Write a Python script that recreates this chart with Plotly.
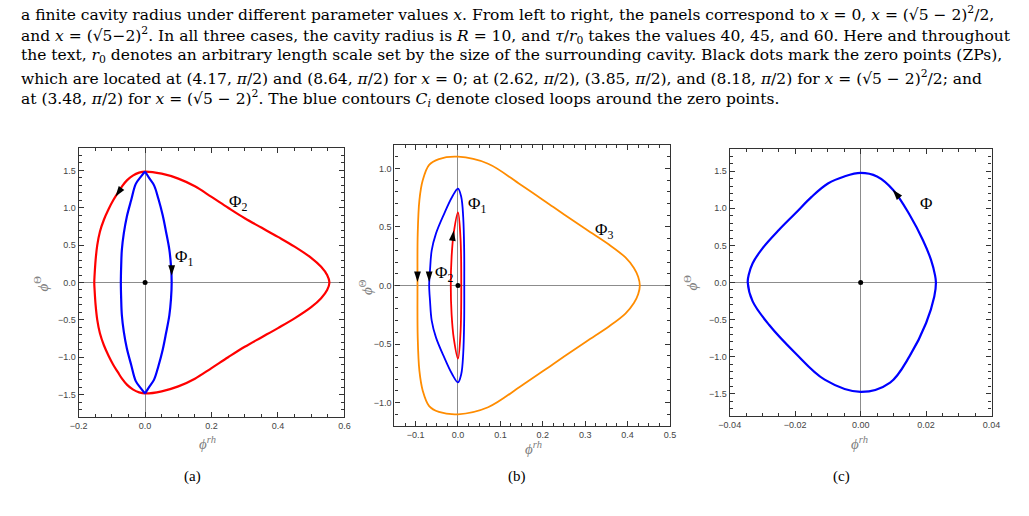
import plotly.graph_objects as go

# ---------------- data ----------------
# Panel (a): x = 0
a_red_x = [0.0, 0.05, 0.10, 0.15, 0.20, 0.25, 0.30, 0.35, 0.40, 0.45, 0.50, 0.53, 0.548, 0.555,
           0.548, 0.53, 0.50, 0.45, 0.40, 0.35, 0.30, 0.25, 0.20, 0.15, 0.10, 0.05, 0.0,
           -0.018, -0.037, -0.054, -0.069, -0.082, -0.096, -0.110, -0.124, -0.136, -0.144, -0.149, -0.152, -0.153,
           -0.152, -0.149, -0.144, -0.136, -0.124, -0.110, -0.096, -0.082, -0.069, -0.054, -0.037, -0.018, 0.0]
a_red_y = [1.485, 1.456, 1.39, 1.287, 1.145, 1.0, 0.86, 0.735, 0.61, 0.48, 0.33, 0.21, 0.10, 0.0,
           -0.10, -0.21, -0.33, -0.48, -0.61, -0.735, -0.86, -1.0, -1.145, -1.287, -1.39, -1.456, -1.485,
           -1.47, -1.43, -1.37, -1.29, -1.20, -1.10, -0.98, -0.84, -0.68, -0.50, -0.30, -0.10, 0.0,
           0.10, 0.30, 0.50, 0.68, 0.84, 0.98, 1.10, 1.20, 1.29, 1.37, 1.43, 1.47, 1.485]
a_blue_r_x = [0.0, 0.012, 0.027, 0.040, 0.053, 0.063, 0.073, 0.078, 0.080, 0.078, 0.073, 0.063, 0.053, 0.040, 0.027, 0.012, 0.0]
a_blue_r_y = [1.485, 1.40, 1.30, 1.12, 0.90, 0.68, 0.44, 0.22, 0.0, -0.22, -0.44, -0.68, -0.90, -1.12, -1.30, -1.40, -1.485]
a_blue_l_x = [0.0, -0.012, -0.028, -0.042, -0.055, -0.064, -0.070, -0.072, -0.073, -0.072, -0.070, -0.064, -0.055, -0.042, -0.028, -0.012, 0.0]
a_blue_l_y = [1.485, 1.42, 1.32, 1.10, 0.88, 0.66, 0.435, 0.22, 0.0, -0.22, -0.435, -0.66, -0.88, -1.10, -1.32, -1.42, -1.485]
a_arrow_x = [-0.089, 0.080]
a_arrow_y = [1.15, 0.09]
a_arrow_ang = [215, 180]
a_labels = ["Φ<sub>2</sub>", "Φ<sub>1</sub>"]
a_label_x = [0.28, 0.117]
a_label_y = [1.07, 0.33]

# Panel (b): x = (sqrt5-2)^2/2
b_orange_x = [0.0, 0.071, 0.148, 0.225, 0.302, 0.356, 0.395, 0.415, 0.425, 0.429,
              0.425, 0.415, 0.395, 0.356, 0.302, 0.225, 0.148, 0.071, 0.0,
              -0.045, -0.068, -0.083, -0.091, -0.095, -0.0955,
              -0.095, -0.091, -0.083, -0.068, -0.045, 0.0]
b_orange_y = [1.10, 1.04, 0.86, 0.67, 0.48, 0.35, 0.24, 0.15, 0.075, 0.0,
              -0.075, -0.15, -0.24, -0.35, -0.48, -0.67, -0.86, -1.04, -1.10,
              -1.08, -1.03, -0.90, -0.73, -0.44, 0.0,
              0.44, 0.73, 0.90, 1.03, 1.08, 1.10]
b_blue_x = [0.0, 0.0077, 0.0123, 0.0146, 0.0148, 0.0146, 0.0123, 0.0077, 0.0,
            -0.0139, -0.033, -0.052, -0.062, -0.066, -0.068,
            -0.066, -0.062, -0.052, -0.033, -0.0139, 0.0]
b_blue_y = [0.827, 0.756, 0.585, 0.30, 0.0, -0.30, -0.585, -0.756, -0.827,
            -0.756, -0.61, -0.443, -0.30, -0.13, 0.0,
            0.13, 0.30, 0.443, 0.61, 0.756, 0.827]
b_red_x = [0.0, 0.006, 0.0077, 0.006, 0.0, -0.010, -0.015, -0.017, -0.015, -0.010, 0.0]
b_red_y = [0.625, 0.40, 0.0, -0.40, -0.625, -0.45, -0.25, 0.0, 0.25, 0.45, 0.625]
b_arrow_x = [-0.0955, -0.068, -0.010]
b_arrow_y = [0.03, 0.03, 0.47]
b_arrow_ang = [180, 180, 8]
b_labels = ["Φ<sub>1</sub>", "Φ<sub>2</sub>", "Φ<sub>3</sub>"]
b_label_x = [0.045, -0.033, 0.345]
b_label_y = [0.685, 0.10, 0.466]

# Panel (c): x = (sqrt5-2)^2
c_blue_x = [0.0, 0.005, 0.010, 0.015, 0.019, 0.0215, 0.0227, 0.023,
            0.0225, 0.020, 0.015, 0.009, 0.0,
            -0.011, -0.020, -0.028, -0.033, -0.0345,
            -0.0342, -0.033, -0.030, -0.025, -0.020, -0.015, -0.010, -0.005, 0.0]
c_blue_y = [1.478, 1.43, 1.245, 0.91, 0.573, 0.305, 0.103, 0.0,
            -0.19, -0.546, -0.99, -1.35, -1.475,
            -1.31, -0.95, -0.57, -0.255, 0.0,
            0.103, 0.26, 0.46, 0.707, 0.93, 1.155, 1.335, 1.43, 1.478]
c_arrow_x = [0.0098]
c_arrow_y = [1.25]
c_arrow_ang = [320]
c_labels = ["Φ"]
c_label_x = [0.020]
c_label_y = [1.066]

caption_lines = [
    "a finite cavity radius under different parameter values <i>x</i>. From left to right, the panels correspond to <i>x</i> = 0, <i>x</i> = (√5 − 2)<sup>2</sup>/2,",
    "and <i>x</i> = (√5−2)<sup>2</sup>. In all three cases, the cavity radius is <i>R</i> = 10, and <i>τ</i>/<i>r</i><sub>0</sub> takes the values 40, 45, and 60. Here and throughout",
    "the text, <i>r</i><sub>0</sub> denotes an arbitrary length scale set by the size of the surrounding cavity. Black dots mark the zero points (ZPs),",
    "which are located at (4.17, <i>π</i>/2) and (8.64, <i>π</i>/2) for <i>x</i> = 0; at (2.62, <i>π</i>/2), (3.85, <i>π</i>/2), and (8.18, <i>π</i>/2) for <i>x</i> = (√5 − 2)<sup>2</sup>/2; and",
    "at (3.48, <i>π</i>/2) for <i>x</i> = (√5 − 2)<sup>2</sup>. The blue contours <i>C<sub>i</sub></i> denote closed loops around the zero points.",
]
panel_tags = ["(a)", "(b)", "(c)"]

# ---------------- figure ----------------
W, H = 1029, 516
fig = go.Figure()

RED = "#ff0000"
BLUE = "#0000ff"
ORANGE = "#ff8c00"


def line(x, y, color, ax, width=2.2):
    fig.add_trace(go.Scatter(x=x, y=y, mode="lines", line=dict(color=color, width=width, shape="spline", smoothing=1.0),
                             xaxis=ax[0], yaxis=ax[1], hoverinfo="skip", showlegend=False))


def arrows(x, y, ang, ax):
    fig.add_trace(go.Scatter(x=x, y=y, mode="markers",
                             marker=dict(symbol="arrow", size=11, angle=ang, color="black", line=dict(width=0)),
                             xaxis=ax[0], yaxis=ax[1], hoverinfo="skip", showlegend=False))


def dot(ax):
    fig.add_trace(go.Scatter(x=[0], y=[0], mode="markers", marker=dict(size=5, color="black"),
                             xaxis=ax[0], yaxis=ax[1], hoverinfo="skip", showlegend=False))


A = ("x", "y")
B = ("x2", "y2")
C = ("x3", "y3")

line(a_red_x, a_red_y, RED, A)
line(a_blue_r_x, a_blue_r_y, BLUE, A)
line(a_blue_l_x, a_blue_l_y, BLUE, A)
arrows(a_arrow_x, a_arrow_y, a_arrow_ang, A)
dot(A)

line(b_orange_x, b_orange_y, ORANGE, B, 1.8)
line(b_blue_x, b_blue_y, BLUE, B, 1.8)
line(b_red_x, b_red_y, RED, B, 1.8)
arrows(b_arrow_x, b_arrow_y, b_arrow_ang, B)
dot(B)

line(c_blue_x, c_blue_y, BLUE, C)
arrows(c_arrow_x, c_arrow_y, c_arrow_ang, C)
dot(C)

# pixel frames: (left, right, top, bottom)
frames = {
    "a": (69, 340, 148, 417),
    "b": (391, 672, 145, 426),
    "c": (733, 1000, 149, 416),
}


def dom(fr):
    l, r, t, b = fr
    return [l / W, r / W], [(H - b) / H, (H - t) / H]


tickfont = dict(family="Liberation Sans, Arial, sans-serif", size=9, color="#444")


def axis(domain, rng, dtick, minor, fmt, anchor):
    return dict(domain=domain, range=rng, dtick=dtick, tick0=0, tickformat=fmt,
                ticks="inside", ticklen=5, tickwidth=1, tickcolor="#333",
                minor=dict(dtick=minor, tick0=0, ticks="inside", ticklen=3, tickwidth=1, tickcolor="#333", showgrid=False),
                showline=True, linecolor="#333", linewidth=1.2, mirror="ticks",
                showgrid=False, zeroline=True, zerolinecolor="#8c8c8c", zerolinewidth=1.2,
                tickfont=tickfont, anchor=anchor, fixedrange=True)


xd, yd = dom(frames["a"])
fig.update_layout(xaxis=axis(xd, [-0.2, 0.6], 0.2, 0.05, ".1f", "y"),
                  yaxis=axis(yd, [-1.8, 1.8], 0.5, 0.1, ".1f", "x"))
xd, yd = dom(frames["b"])
fig.update_layout(xaxis2=axis(xd, [-0.15, 0.5], 0.1, 0.025, ".1f", "y2"),
                  yaxis2=axis(yd, [-1.2, 1.2], 0.5, 0.1, ".1f", "x2"))
xd, yd = dom(frames["c"])
fig.update_layout(xaxis3=axis(xd, [-0.04, 0.04], 0.02, 0.005, ".2f", "y3"),
                  yaxis3=axis(yd, [-1.8, 1.8], 0.5, 0.1, ".1f", "x3"))

annotations = []
serif = "Liberation Serif, Times New Roman, serif"


def lab(texts, xs, ys, ax):
    for t, x, y in zip(texts, xs, ys):
        annotations.append(dict(text=t, x=x, y=y, xref=ax[0], yref=ax[1], showarrow=False,
                                xanchor="center", yanchor="middle",
                                font=dict(family=serif, size=17, color="black")))


lab(a_labels, a_label_x, a_label_y, A)
lab(b_labels, b_label_x, b_label_y, B)
lab(c_labels, c_label_x, c_label_y, C)


def paper(px, py, text, size, color="black", angle=0, xanchor="center", family=serif):
    annotations.append(dict(text=text, x=px / W, y=1 - py / H, xref="paper", yref="paper", showarrow=False,
                            xanchor=xanchor, yanchor="middle", textangle=angle,
                            font=dict(family=family, size=size, color=color)))


# axis titles (paper pixel positions)
xt_pos = [(200, 443), (533, 448), (865, 443)]
yt_pos = [(31, 283), (362, 287), (693, 283)]
for (px, py) in xt_pos:
    paper(px, py, "<i>ϕ</i><sup><i>rh</i></sup>", 15, "#808080")
for (px, py) in yt_pos:
    paper(px, py, "<i>ϕ</i><sup>Θ</sup>", 15, "#808080", angle=-90)

tag_pos = [(185, 476), (516, 476), (847, 476)]
for t, (px, py) in zip(panel_tags, tag_pos):
    paper(px, py, t, 15)

line_y = [13, 35, 56, 77, 98]
for t, py in zip(caption_lines, line_y):
    paper(8, py, t, 15.5, xanchor="left", family="DejaVu Serif, serif")

fig.update_layout(width=W, height=H, margin=dict(l=0, r=0, t=0, b=0), paper_bgcolor="white", plot_bgcolor="white",
                  annotations=annotations, showlegend=False)

fig.write_html("out.html", config=dict(displayModeBar=False))
